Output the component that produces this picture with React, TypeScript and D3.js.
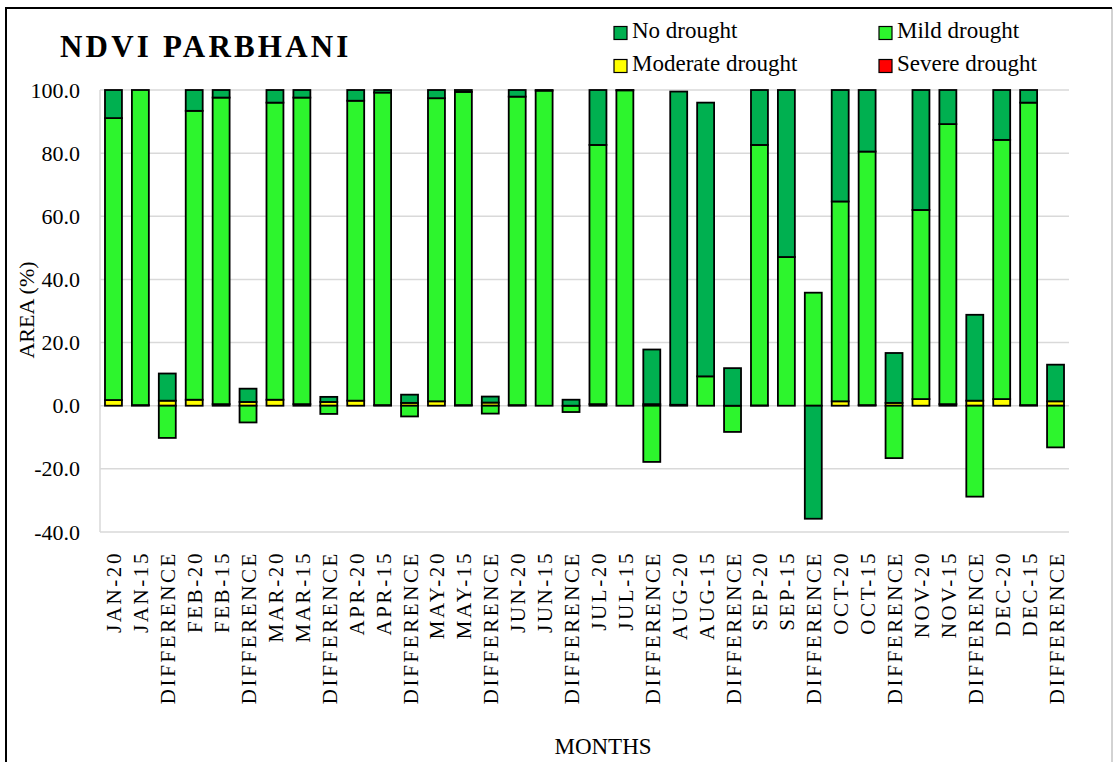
import * as d3 from 'd3';

// --- Data ---
const categories = [
  'JAN-20', 'JAN-15', 'DIFFERENCE',
  'FEB-20', 'FEB-15', 'DIFFERENCE',
  'MAR-20', 'MAR-15', 'DIFFERENCE',
  'APR-20', 'APR-15', 'DIFFERENCE',
  'MAY-20', 'MAY-15', 'DIFFERENCE',
  'JUN-20', 'JUN-15', 'DIFFERENCE',
  'JUL-20', 'JUL-15', 'DIFFERENCE',
  'AUG-20', 'AUG-15', 'DIFFERENCE',
  'SEP-20', 'SEP-15', 'DIFFERENCE',
  'OCT-20', 'OCT-15', 'DIFFERENCE',
  'NOV-20', 'NOV-15', 'DIFFERENCE',
  'DEC-20', 'DEC-15', 'DIFFERENCE',
];

const noDrought = [
  8.9, 0, 8.6, 6.6, 2.4, 4.2, 4.0, 2.4, 1.6, 3.4, 0.8, 2.6,
  2.6, 0.6, 1.9, 2.1, 0.2, 1.9, 17.4, 0.1, 17.3, 99.2, 86.7, 11.9,
  17.4, 52.9, -35.8, 35.3, 19.5, 15.8, 38.0, 10.8, 27.2, 15.8, 4.0, 11.6,
];
const mildDrought = [
  89.3, 99.8, -10.2, 91.5, 97.1, -5.3, 94.1, 97.1, -2.6, 95.0, 99.0, -3.4,
  96.0, 99.2, -2.5, 97.7, 99.8, -2.0, 82.1, 99.9, -17.8, 0.3, 9.3, -8.3,
  82.5, 47.1, 35.8, 63.3, 80.3, -16.6, 59.9, 88.7, -28.8, 82.1, 95.8, -13.2,
];
const moderateDrought = [
  1.8, 0.2, 1.6, 1.9, 0.5, 1.2, 1.9, 0.5, 1.2, 1.6, 0.2, 0.9,
  1.4, 0.2, 1.0, 0.2, 0, 0, 0.5, 0, 0.5, 0, 0, 0,
  0.1, 0, 0, 1.4, 0.2, 0.9, 2.1, 0.5, 1.6, 2.1, 0.2, 1.4,
];
const severeDrought = new Array(36).fill(0);

const yTicks = [-40, -20, 0, 20, 40, 60, 80, 100];

const seriesKeys = ['severe', 'moderate', 'mild', 'no'];
const colors: Record<string, string> = {
  no: '#00b050',
  mild: '#2df52d',
  moderate: '#ffff00',
  severe: '#ff0000',
};
const legendItems = [
  { key: 'no', label: 'No drought' },
  { key: 'mild', label: 'Mild drought' },
  { key: 'moderate', label: 'Moderate drought' },
  { key: 'severe', label: 'Severe drought' },
];

const FONT = '"Liberation Serif", "Times New Roman", serif';

const App = () => {
  const W = 1113;
  const H = 762;
  const left = 100;
  const right = 1069;
  const top = 90;
  const bottom = 532;

  const rows = categories.map((c, i) => ({
    idx: i,
    cat: c,
    no: noDrought[i],
    mild: mildDrought[i],
    moderate: moderateDrought[i],
    severe: severeDrought[i],
  }));

  const x = d3.scaleBand<number>()
    .domain(rows.map(r => r.idx))
    .range([left, right])
    .paddingInner(0.37)
    .paddingOuter(0.185);
  const y = d3.scaleLinear().domain([-40, 100]).range([bottom, top]);

  const stacked = d3.stack<any>()
    .keys(seriesKeys)
    .offset(d3.stackOffsetDiverging)(rows);

  return (
    <svg width={W} height={H} style={{ position: 'absolute', left: 0, top: 0, background: '#fff' }}
         fontFamily={FONT}>
      {/* frame */}
      <line x1={1112} y1={8} x2={1112} y2={H} stroke="#a6a6a6" strokeWidth={1} />
      <line x1={6} y1={8} x2={1112} y2={8} stroke="#000" strokeWidth={2} />
      <line x1={6} y1={7} x2={6} y2={H} stroke="#000" strokeWidth={2} />

      {/* title */}
      <text x={60} y={57} fontSize={31} fontWeight="bold" letterSpacing={3.2}>NDVI PARBHANI</text>

      {/* legend */}
      {legendItems.map((it, i) => {
        const lx = i % 2 === 0 ? 614 : 879;
        const ly = i < 2 ? 38 : 71;
        return (
          <g key={it.key}>
            <rect x={lx} y={ly - 11.5} width={13} height={13} fill={colors[it.key]} stroke="#000" strokeWidth={1.2} />
            <text x={lx + 18} y={ly} fontSize={23}>{it.label}</text>
          </g>
        );
      })}

      {/* grid */}
      {yTicks.map(t => (
        <line key={t} x1={left} x2={right} y1={y(t)} y2={y(t)} stroke="#d9d9d9" strokeWidth={1.5} />
      ))}
      <line x1={left} x2={left} y1={top} y2={bottom} stroke="#d9d9d9" strokeWidth={1.5} />

      {/* y tick labels */}
      {yTicks.map(t => (
        <text key={t} x={80} y={y(t)} fontSize={22} textAnchor="end" dominantBaseline="central">
          {t.toFixed(1)}
        </text>
      ))}

      {/* bars */}
      {stacked.map(s => (
        <g key={s.key} fill={colors[s.key]}>
          {s.map((d, i) => {
            if (d[1] - d[0] === 0) return null;
            const y0 = y(Math.max(d[0], d[1]));
            const y1 = y(Math.min(d[0], d[1]));
            return (
              <rect key={i} x={x(i)} y={y0} width={x.bandwidth()} height={y1 - y0}
                    stroke="#000" strokeWidth={1.8} />
            );
          })}
        </g>
      ))}

      {/* x labels */}
      {categories.map((c, i) => {
        const cx = (x(i) as number) + x.bandwidth() / 2 + 1;
        return (
          <text key={i} transform={`translate(${cx},551) rotate(-90)`} fontSize={21}
                letterSpacing={2.6} textAnchor="end" dominantBaseline="central">
            {c}
          </text>
        );
      })}

      {/* axis titles */}
      <text transform="translate(26,310) rotate(-90)" fontSize={22} textAnchor="middle" dominantBaseline="central">
        AREA (%)
      </text>
      <text x={603} y={754} fontSize={23} textAnchor="middle">MONTHS</text>
    </svg>
  );
};

export default App;
